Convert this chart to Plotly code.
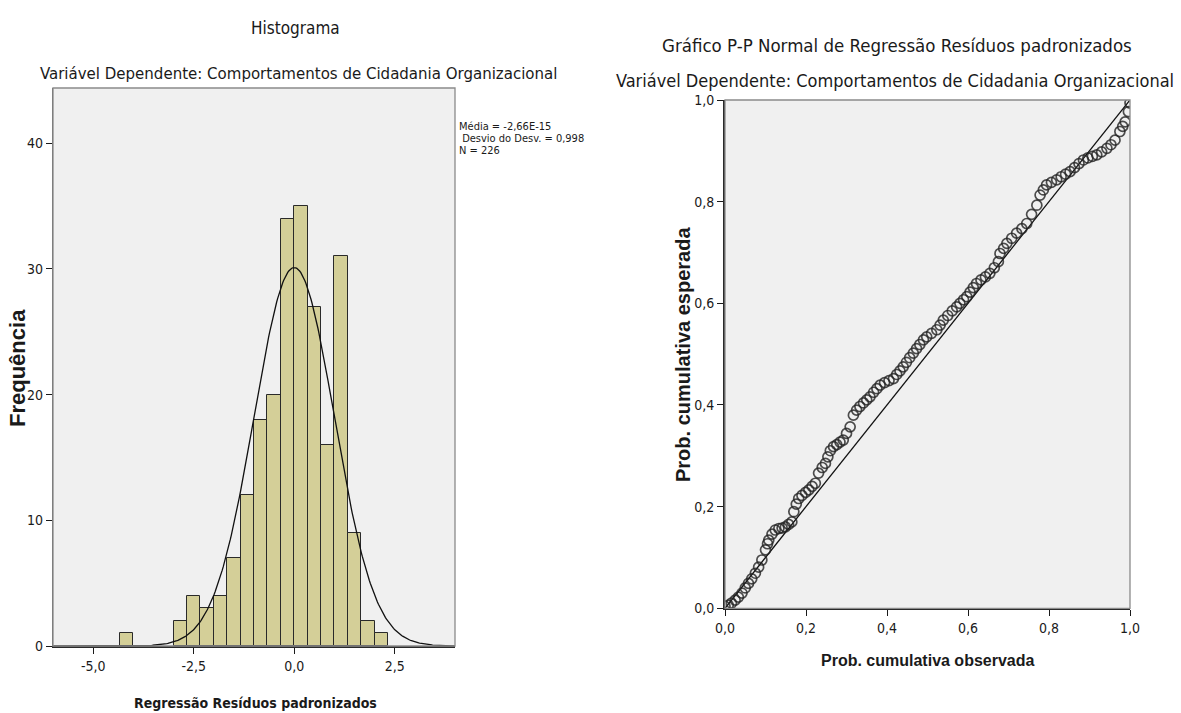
import numpy as np
import plotly.graph_objects as go

W, H = 1181, 713

# ---------------- Histogram data ----------------
bin_left_edges = [-4.333, -3.0, -2.667, -2.333, -2.0, -1.667, -1.333, -1.0, -0.667,
                  -0.333, 0.0, 0.333, 0.667, 1.0, 1.333, 1.667, 2.0]
bin_counts = [1, 2, 4, 3, 4, 7, 12, 18, 20, 34, 35, 27, 16, 31, 9, 2, 1]
bin_width = 1 / 3
stat_mean = -2.66e-15
stat_sd = 0.998
stat_n = 226
hist_xticks = [-5.0, -2.5, 0.0, 2.5]
hist_xtick_labels = ["-5,0", "-2,5", "0,0", "2,5"]
hist_yticks = [0, 10, 20, 30, 40]

# ---------------- P-P plot data ----------------
pp_observed = [0.000, 0.008, 0.016, 0.025, 0.033, 0.042, 0.050, 0.058, 0.066, 0.075,
               0.083, 0.091, 0.100, 0.105, 0.108, 0.116, 0.124, 0.133, 0.141, 0.149,
               0.157, 0.165, 0.170, 0.176, 0.182, 0.190, 0.199, 0.207, 0.215, 0.223,
               0.231, 0.240, 0.248, 0.254, 0.260, 0.268, 0.276, 0.284, 0.292, 0.300,
               0.309, 0.317, 0.325, 0.333, 0.342, 0.350, 0.358, 0.367, 0.375, 0.383,
               0.394, 0.405, 0.416, 0.424, 0.432, 0.440, 0.448, 0.456, 0.465, 0.473,
               0.481, 0.490, 0.498, 0.510, 0.523, 0.531, 0.539, 0.550, 0.561, 0.572,
               0.580, 0.589, 0.597, 0.605, 0.613, 0.621, 0.632, 0.643, 0.654, 0.665,
               0.675, 0.679, 0.688, 0.696, 0.708, 0.720, 0.733, 0.745, 0.757, 0.770,
               0.778, 0.786, 0.794, 0.806, 0.819, 0.830, 0.841, 0.852, 0.863, 0.874,
               0.885, 0.896, 0.907, 0.918, 0.930, 0.943, 0.953, 0.963, 0.975, 0.982,
               0.988, 0.996, 1.000]
pp_expected = [0.004, 0.006, 0.010, 0.016, 0.022, 0.030, 0.040, 0.049, 0.058, 0.069,
               0.081, 0.095, 0.115, 0.127, 0.134, 0.146, 0.154, 0.157, 0.158, 0.160,
               0.165, 0.170, 0.190, 0.205, 0.216, 0.222, 0.228, 0.233, 0.240, 0.246,
               0.266, 0.277, 0.285, 0.298, 0.310, 0.318, 0.322, 0.327, 0.331, 0.344,
               0.357, 0.380, 0.390, 0.397, 0.404, 0.410, 0.416, 0.425, 0.432, 0.439,
               0.444, 0.448, 0.452, 0.460, 0.467, 0.475, 0.484, 0.493, 0.502, 0.511,
               0.519, 0.528, 0.534, 0.541, 0.548, 0.557, 0.567, 0.576, 0.585, 0.593,
               0.600, 0.607, 0.613, 0.622, 0.631, 0.639, 0.646, 0.652, 0.659, 0.670,
               0.682, 0.698, 0.708, 0.718, 0.728, 0.738, 0.747, 0.757, 0.775, 0.793,
               0.813, 0.823, 0.833, 0.838, 0.843, 0.849, 0.854, 0.859, 0.867, 0.875,
               0.882, 0.886, 0.889, 0.892, 0.898, 0.905, 0.912, 0.921, 0.938, 0.948,
               0.957, 0.977, 0.994]
pp_ref_line = [0.0, 1.0]
pp_ticks = [0.0, 0.2, 0.4, 0.6, 0.8, 1.0]
pp_tick_labels = ["0,0", "0,2", "0,4", "0,6", "0,8", "1,0"]

NARROW = "DejaVu Sans Condensed, Liberation Sans Narrow, Arial Narrow, Liberation Sans, Arial, sans-serif"
SANS = "Liberation Sans, Arial, sans-serif"
INK = "#1a1a1a"
FRAME = "#8a8a8a"


def px(x):
    return x / W


def py(y):
    return 1 - y / H


fig = go.Figure()

# histogram bars
centers = [e + bin_width / 2 for e in bin_left_edges]
fig.add_trace(go.Bar(
    x=centers, y=bin_counts, width=bin_width,
    marker=dict(color="#d4cf98", line=dict(color="#2a2a2a", width=1)),
    xaxis="x", yaxis="y", showlegend=False, hoverinfo="skip",
))

# fitted normal curve (from the stated mean, sd and N)
xc = np.linspace(-6, 4, 400)
yc = stat_n * bin_width / (stat_sd * np.sqrt(2 * np.pi)) * np.exp(-0.5 * ((xc - stat_mean) / stat_sd) ** 2)
fig.add_trace(go.Scatter(
    x=xc, y=yc, mode="lines", line=dict(color="#111111", width=1.3),
    xaxis="x", yaxis="y", showlegend=False, hoverinfo="skip",
))

# P-P reference diagonal
fig.add_trace(go.Scatter(
    x=pp_ref_line, y=pp_ref_line, mode="lines", line=dict(color="#111111", width=1.3),
    xaxis="x2", yaxis="y2", showlegend=False, hoverinfo="skip",
))
# P-P points
fig.add_trace(go.Scatter(
    x=pp_observed, y=pp_expected, mode="markers",
    marker=dict(symbol="circle-open", size=10, color="rgba(35,35,35,0.8)",
                line=dict(width=1.7)),
    xaxis="x2", yaxis="y2", showlegend=False, hoverinfo="skip",
))

tickfont = dict(family=NARROW, size=14, color=INK)

common = dict(ticks="outside", ticklen=6, tickcolor=INK, tickwidth=1.3,
              showgrid=False, zeroline=False, tickfont=tickfont, automargin=False,
              tickmode="array")

fig.update_layout(
    width=W, height=H,
    margin=dict(l=0, r=0, t=0, b=0, pad=0, autoexpand=False),
    paper_bgcolor="white",
    plot_bgcolor="#f0f0f0",
    bargap=0,
    xaxis=dict(
        domain=[px(53), px(455)], range=[-6, 4], anchor="y",
        tickvals=hist_xticks, ticktext=hist_xtick_labels,
        showline=True, linecolor="#2a2a2a", linewidth=1.6, **common,
    ),
    yaxis=dict(
        domain=[py(646), py(88)], range=[0, 44.4], anchor="x",
        tickvals=hist_yticks, ticktext=[str(v) for v in hist_yticks],
        showline=True, linecolor="#6a6a6a", linewidth=1.3, **common,
    ),
    xaxis2=dict(
        domain=[px(725), px(1130)], range=[0, 1], anchor="y2",
        tickvals=pp_ticks, ticktext=pp_tick_labels,
        showline=True, linecolor="#2a2a2a", linewidth=1.6, **common,
    ),
    yaxis2=dict(
        domain=[py(608.3), py(100)], range=[0, 1], anchor="x2",
        tickvals=pp_ticks, ticktext=pp_tick_labels,
        showline=True, linecolor="#2a2a2a", linewidth=1.6, **common,
    ),
    shapes=[
        dict(type="rect", xref="x domain", yref="y domain", x0=0, x1=1, y0=0, y1=1,
             line=dict(color=FRAME, width=1.3), layer="above"),
        dict(type="rect", xref="x2 domain", yref="y2 domain", x0=0, x1=1, y0=0, y1=1,
             line=dict(color=FRAME, width=1.3), layer="above"),
    ],
)

ann = []


def text(x, y, s, size, family=NARROW, bold=False, angle=0, xanchor="center", color=INK):
    ann.append(dict(
        x=px(x), y=py(y), xref="paper", yref="paper",
        text=("<b>%s</b>" % s) if bold else s, showarrow=False,
        xanchor=xanchor, yanchor="middle", textangle=angle,
        font=dict(family=family, size=size, color=color),
    ))


# histogram texts
text(295, 28, "Histograma", 17)
text(298, 73, "Variável Dependente: Comportamentos de Cidadania Organizacional", 16.7)
text(457, 127, "Média = -2,66E-15", 11, xanchor="left")
text(457, 139, " Desvio do Desv. = 0,998", 11, xanchor="left")
text(457, 151, "N = 226", 11, xanchor="left")
text(255, 703, "Regressão Resíduos padronizados", 14, bold=True)
text(17, 368, "Frequência", 22, family=SANS, bold=True, angle=-90)

# P-P texts
text(897, 45, "Gráfico P-P Normal de Regressão Resíduos padronizados", 18.5)
text(895, 80, "Variável Dependente: Comportamentos de Cidadania Organizacional", 18)
text(928, 660, "Prob. cumulativa observada", 16, family=SANS, bold=True)
text(683, 355, "Prob. cumulativa esperada", 20, family=SANS, bold=True, angle=-90)

fig.update_layout(annotations=ann)

fig.write_html("out.html")
